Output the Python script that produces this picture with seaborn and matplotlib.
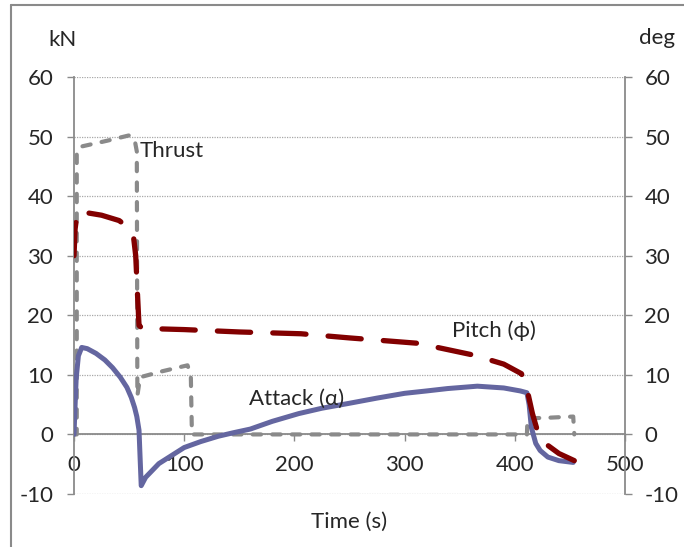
import matplotlib
matplotlib.use("Agg")
import matplotlib.pyplot as plt
from matplotlib.lines import Line2D
import seaborn as sns
import pandas as pd

# Thrust profile (kN)
time_thrust = [0, 2.5, 2.5, 6, 30, 50, 55, 57, 57.5, 60, 80, 103, 106, 107, 200, 300, 411, 411.5, 430, 453, 454]
thrust = [0, 0, 47.5, 48.3, 49.3, 50.2, 49.5, 47.5, 6.5, 9.6, 10.6, 11.6, 10.0, 0, 0, 0, 0, 2.7, 2.8, 3.0, 0]

# Pitch angle (deg)
time_pitch = [0, 1, 3, 12, 25, 41, 50, 54, 56, 57.5, 59, 62, 100, 150, 206, 250, 312, 363,
              390, 406, 410, 413, 416, 421, 426, 440, 454]
pitch = [30, 34.5, 37.3, 37.2, 36.8, 35.9, 34.6, 33.2, 30, 24, 18.3, 17.8, 17.6, 17.2, 16.9,
         16.2, 15.3, 13.3, 11.8, 10.2, 8.5, 6, 3.5, 0.3, -1.3, -3.2, -4.4]

# Angle of attack (deg)
time_attack = [0, 1, 2, 4, 7, 12, 20, 28, 35, 42, 48, 52, 55, 57, 59, 60, 61, 65, 77, 100,
               115, 131, 145, 160, 180, 204, 225, 249, 275, 300, 320, 339, 366, 390, 405, 411,
               413, 415, 419, 423, 430, 440, 453]
attack = [0, 5, 9.5, 13.2, 14.6, 14.4, 13.6, 12.5, 11.2, 9.6, 7.9, 6.2, 4.5, 3.0, 0.7, -4,
          -8.6, -7.2, -4.9, -2.2, -1.2, -0.3, 0.3, 0.9, 2.2, 3.5, 4.4, 5.2, 6.1, 6.9, 7.3, 7.7,
          8.1, 7.8, 7.3, 7.0, 5.0, 1.2, -1.5, -2.7, -3.8, -4.4, -4.7]

x_ticks = [0, 100, 200, 300, 400, 500]
y_ticks = [-10, 0, 10, 20, 30, 40, 50, 60]

sns.set_style("white")
plt.rcParams["font.family"] = ["Lato", "DejaVu Sans"]
plt.rcParams["axes.unicode_minus"] = False
FS = 16

fig = plt.figure(figsize=(6.84, 5.47), dpi=100)
ax = fig.add_axes([74 / 684, 1 - 494 / 547, (625 - 74) / 684, (494 - 77) / 547])
ax2 = ax.twinx()

GRAY = "#8a8a8a"
df_thrust = pd.DataFrame({"t": time_thrust, "v": thrust})
df_pitch = pd.DataFrame({"t": time_pitch, "v": pitch})
df_attack = pd.DataFrame({"t": time_attack, "v": attack})

sns.lineplot(data=df_thrust, x="t", y="v", ax=ax, sort=False, estimator=None,
             color=GRAY, lw=3.0)
ax.lines[-1].set_dashes([2.0, 2.7])
ax.lines[-1].set_dash_capstyle("round")

sns.lineplot(data=df_attack, x="t", y="v", ax=ax2, sort=False, estimator=None,
             color="#6466a0", lw=3.6)
ax2.lines[-1].set_solid_joinstyle("round")
sns.lineplot(data=df_pitch, x="t", y="v", ax=ax2, sort=False, estimator=None,
             color="#820000", lw=3.8)
ax2.lines[-1].set_dashes([6.3, 4.2])
ax2.lines[-1].set_dash_capstyle("round")

for a in (ax, ax2):
    a.set_xlim(0, 500)
    a.set_ylim(-10, 60)
    a.set_yticks(y_ticks)
    a.set_xlabel("")
    a.set_ylabel("")
    a.spines["top"].set_visible(False)
    for s in a.spines.values():
        s.set_color(GRAY)
        s.set_linewidth(1.3)

ax.set_xticks(x_ticks)
ax.spines["bottom"].set_position(("data", 0))
ax2.spines["bottom"].set_visible(False)
ax.spines["right"].set_visible(False)
ax2.spines["left"].set_visible(False)

ax.yaxis.grid(True, linestyle=(0, (1, 1)), color="#a8a8a8", lw=0.9)
ax.xaxis.grid(False)
ax.set_axisbelow(True)

ax.tick_params(axis="x", direction="out", length=5, width=1, color=GRAY, pad=10,
               labelsize=FS, bottom=True)
ax.tick_params(axis="y", direction="out", length=5, width=1, color=GRAY, pad=10,
               labelsize=FS, left=True)
ax2.tick_params(axis="y", direction="out", length=5, width=1, color=GRAY, pad=9,
                labelsize=FS, right=True)

ax.text(60, 47.6, "Thrust", fontsize=FS, ha="left", va="center")
ax2.text(381, 17.4, "Pitch (\u03d5)", fontsize=FS, ha="center", va="center")
ax2.text(202, 6.0, "Attack (\u03b1)", fontsize=FS, ha="center", va="center")

fig.text(62 / 684, 1 - 40 / 547, "kN", fontsize=FS, ha="center", va="center")
fig.text(657 / 684, 1 - 38 / 547, "deg", fontsize=FS, ha="center", va="center")
fig.text(349 / 684, 1 - 522 / 547, "Time (s)", fontsize=FS, ha="center", va="center")

# outer chart frame
fig.add_artist(Line2D([11 / 684, 11 / 684], [0, 1 - 5 / 547], color=GRAY, lw=1.5,
                      transform=fig.transFigure))
fig.add_artist(Line2D([11 / 684, 1], [1 - 5 / 547, 1 - 5 / 547], color=GRAY, lw=1.5,
                      transform=fig.transFigure))

fig.savefig("out.png", dpi=100)
